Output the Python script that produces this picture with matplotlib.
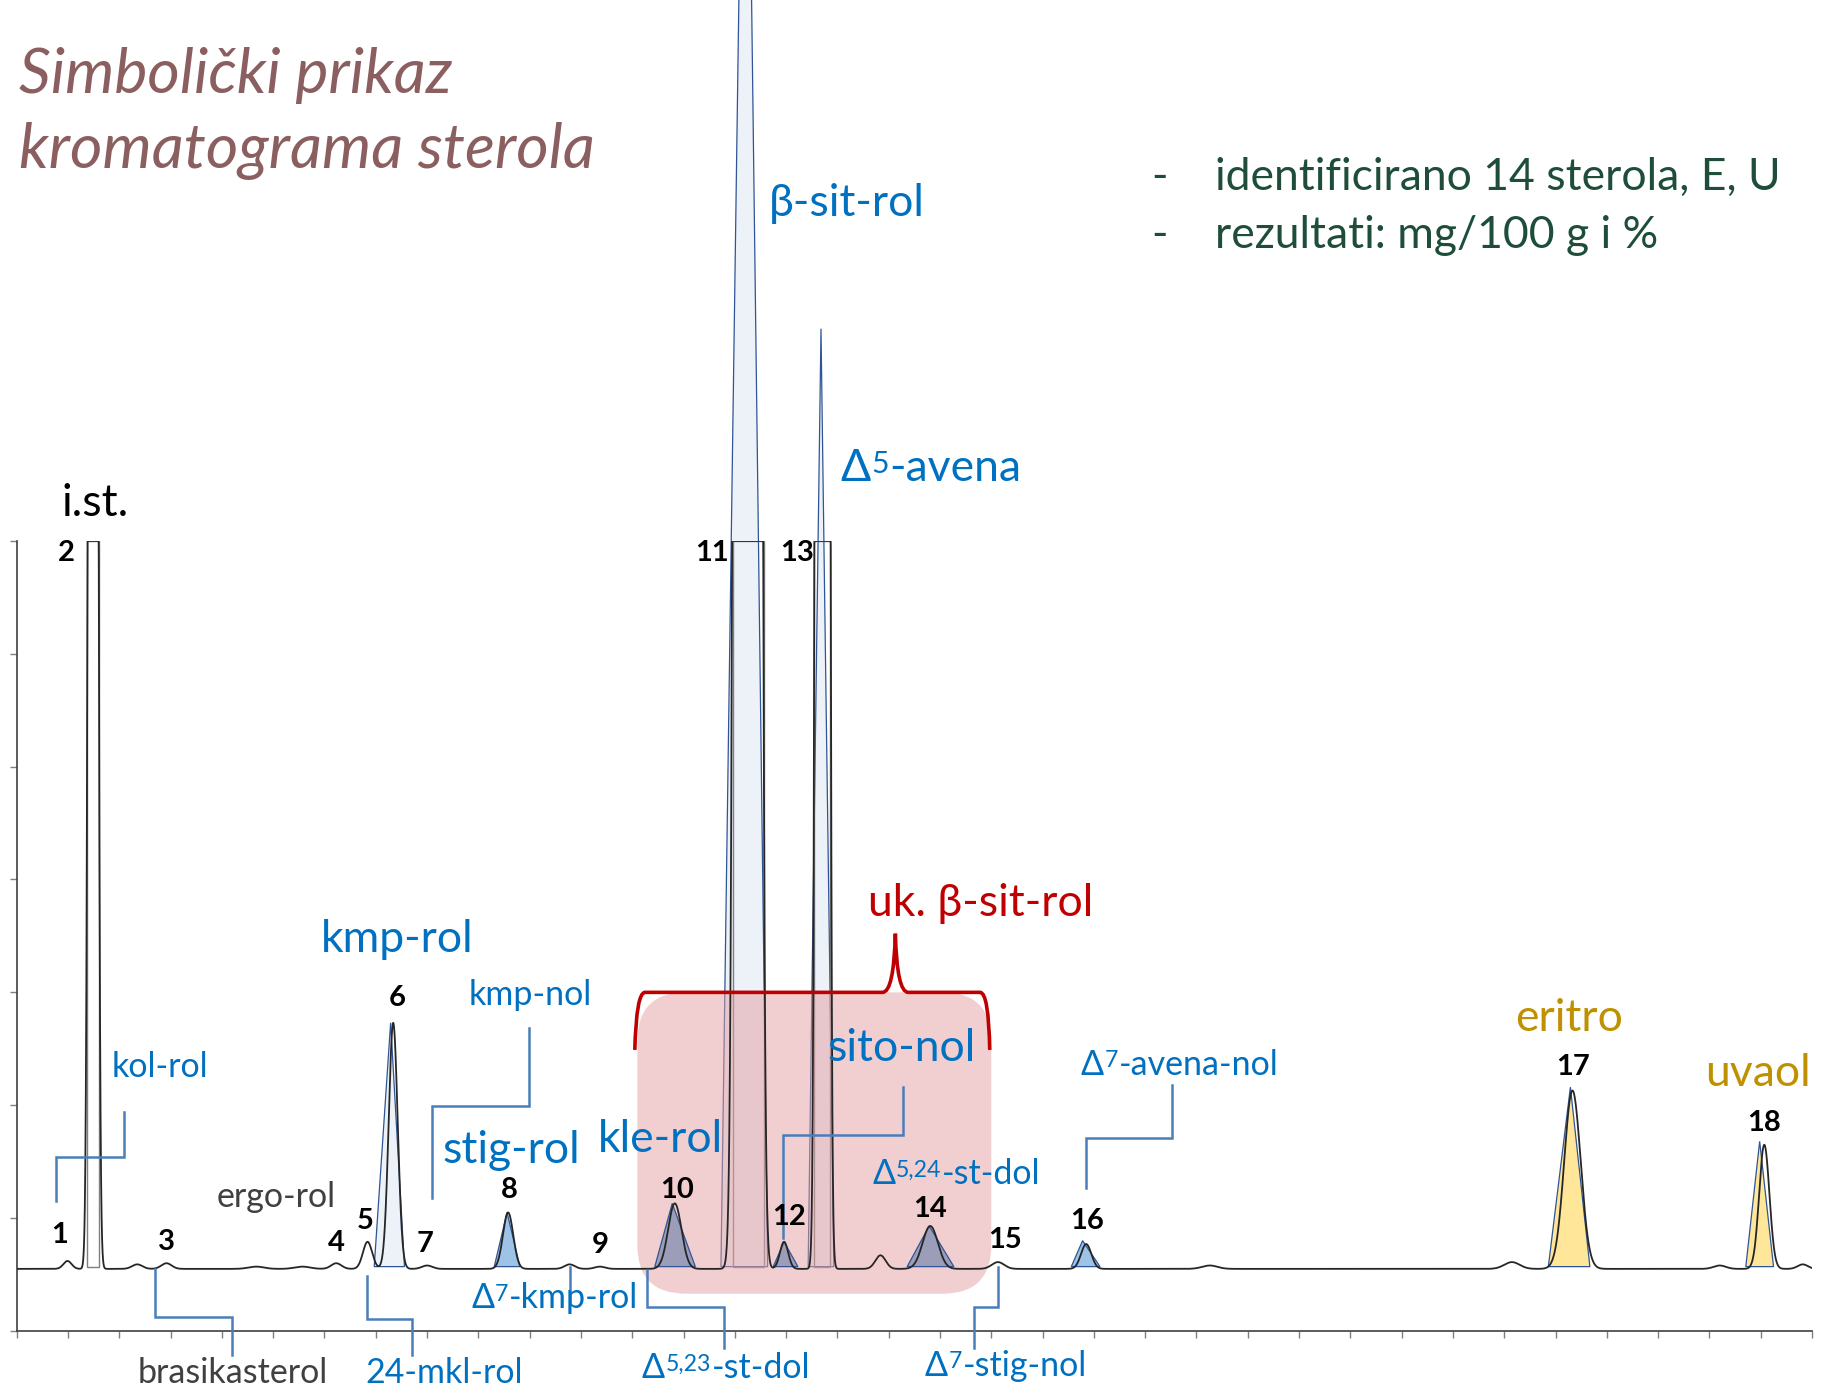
import numpy as np
import matplotlib.pyplot as plt
from matplotlib.patches import Polygon, Rectangle, FancyBboxPatch, PathPatch
from matplotlib.path import Path

plt.rcParams['font.family'] = ['Lato', 'Noto Sans', 'DejaVu Sans']

# kromatogram: polozaj pika (jedinice osi), visina iznad bazne linije, sirina
baseline = 0.55
peak_rt = [0.99, 1.49, 2.35, 2.92, 4.67, 5.57, 6.23, 6.84, 7.34, 8.00, 9.58,
           10.78, 11.37, 12.83, 14.25, 14.96, 15.71, 16.84, 17.81, 19.13,
           20.85, 23.26, 29.15, 30.33, 33.20, 34.07, 34.82]
peak_h = [0.07, 50.0, 0.04, 0.05, 0.02, 0.02, 0.05, 0.24, 2.18, 0.03, 0.50,
          0.04, 0.02, 0.58, 500.0, 0.24, 200.0, 0.12, 0.38, 0.06,
          0.22, 0.03, 0.06, 1.58, 0.03, 1.10, 0.04]
peak_s = [0.08, 0.054, 0.10, 0.10, 0.15, 0.15, 0.10, 0.09, 0.087, 0.10, 0.10,
          0.10, 0.10, 0.13, 0.103, 0.08, 0.061, 0.10, 0.15, 0.12,
          0.10, 0.15, 0.15, 0.16, 0.12, 0.10, 0.10]

# integrirani pikovi (trokuti)
tri_left = [6.97, 9.31, 12.44, 13.73, 14.75, 15.43, 17.36, 20.56, 29.86, 33.71]
tri_apex = [7.29, 9.56, 12.78, 14.21, 14.96, 15.68, 17.79, 20.78, 30.29, 33.98]
tri_right = [7.56, 9.81, 13.23, 14.64, 15.23, 15.93, 18.27, 21.12, 30.67, 34.25]
tri_top = [2.73, 1.05, 1.13, 16.0, 0.79, 8.88, 0.93, 0.80, 2.16, 1.68]
tri_fill = ['#edf1f8', '#9dc3e6', '#9c9db8', '#edf1f8', '#9c9db8', '#edf1f8',
            '#9c9db8', '#9dc3e6', '#ffe699', '#ffe699']
tri_front = [True, True, True, False, True, False, True, True, True, True]

# odrezani vrhovi (2, 11, 13)
cut_left = [1.37, 13.96, 15.55]
cut_right = [1.60, 14.57, 15.86]

# brojevi pikova
num_txt = ['1', '2', '3', '4', '5', '6', '7', '8', '9', '10', '11', '12', '13',
           '14', '15', '16', '17', '18']
num_x = [0.83, 0.97, 2.92, 6.23, 6.79, 7.41, 7.97, 9.61, 11.37, 12.87, 13.55,
         15.05, 15.21, 17.81, 19.27, 20.87, 30.35, 34.07]
num_y = [0.85, 6.89, 0.79, 0.78, 0.97, 2.95, 0.77, 1.25, 0.76, 1.25, 6.89,
         1.01, 6.89, 1.08, 0.81, 0.97, 2.34, 1.84]

BLUE = '#0070c0'
GREY = '#404040'
GOLD = '#bf9000'
RED = '#c00000'
LINE = '#4a7ebb'

# nazivi: tekst, x, y, velicina, boja
names = [
    ('i.st.', 1.53, 7.33, 32, 'black'),
    ('β-sit-rol', 16.18, 9.99, 32, BLUE),
    ('uk. β-sit-rol', 18.79, 3.79, 32, RED),
    ('kmp-rol', 7.41, 3.47, 32, BLUE),
    ('kmp-nol', 10.01, 2.98, 24.5, BLUE),
    ('kol-rol', 2.80, 2.34, 24.5, BLUE),
    ('sito-nol', 17.25, 2.50, 32, BLUE),
    ('stig-rol', 9.65, 1.60, 32, BLUE),
    ('kle-rol', 12.55, 1.70, 32, BLUE),
    ('ergo-rol', 5.05, 1.19, 24.5, GREY),
    ('eritro', 30.26, 2.77, 32, GOLD),
    ('uvaol', 33.94, 2.28, 32, GOLD),
    ('brasikasterol', 4.21, -0.37, 24.5, GREY),
    ('24-mkl-rol', 8.34, -0.37, 24.5, BLUE),
]
# nazivi s Δ: lijevi rub x, y, eksponent, ostatak, velicina
delta_names = [
    (16.05, 7.64, '5', '-avena', 32),
    (20.74, 2.36, '7', '-avena-nol', 24.5),
    (16.68, 1.39, '5,24', '-st-dol', 24.5),
    (8.86, 0.29, '7', '-kmp-rol', 24.5),
    (12.19, -0.33, '5,23', '-st-dol', 24.5),
    (17.70, -0.31, '7', '-stig-nol', 24.5),
]

# pokazne linije
leaders = [
    ([0.76, 0.76, 2.10, 2.10], [1.15, 1.54, 1.54, 1.94]),
    ([2.69, 2.69, 4.19, 4.19], [0.55, 0.12, 0.12, -0.21]),
    ([6.82, 6.82, 7.70, 7.70], [0.49, 0.11, 0.11, -0.21]),
    ([8.09, 8.09, 9.99, 9.99], [1.18, 1.99, 1.99, 2.68]),
    ([10.78, 10.78], [0.57, 0.25]),
    ([12.28, 12.28, 13.78, 13.78], [0.54, 0.21, 0.21, -0.15]),
    ([14.93, 14.93, 17.27, 17.27], [0.82, 1.74, 1.74, 2.16]),
    ([19.13, 19.13, 18.67, 18.67], [0.57, 0.21, 0.21, -0.15]),
    ([20.85, 20.85, 22.53, 22.53], [1.27, 1.71, 1.71, 2.18]),
]

x = np.linspace(0, 35, 14001)
y = np.full_like(x, baseline)
for rt, h, s in zip(peak_rt, peak_h, peak_s):
    y += h * np.exp(-0.5 * ((x - rt) / s) ** 2)
y = np.minimum(y, 7.0)

fig = plt.figure(figsize=(18.23, 13.88), dpi=100)
ax = fig.add_axes([0.00916, 0.0411, 0.9848, 0.5692])
ax.set_xlim(0, 35)
ax.set_ylim(0, 7)
ax.set_xticks(np.arange(0, 36))
ax.set_yticks(np.arange(0, 8))
ax.tick_params(direction='out', length=5, width=1, color='#7f7f7f',
               labelbottom=False, labelleft=False)
for sp in ['top', 'right']:
    ax.spines[sp].set_visible(False)
for sp in ['left', 'bottom']:
    ax.spines[sp].set_color('#404040')
    ax.spines[sp].set_linewidth(1.2)

# trokuti
for l, a, r, t, c, front in zip(tri_left, tri_apex, tri_right, tri_top,
                                tri_fill, tri_front):
    poly = Polygon([[l, baseline + 0.02], [a, t], [r, baseline + 0.02]],
                   closed=True, facecolor=c, edgecolor='#2f5597', lw=0.9,
                   zorder=4 if front else 1, clip_on=False)
    ax.add_patch(poly)

for l, r in zip(cut_left, cut_right):
    ax.add_patch(Rectangle((l, baseline + 0.02), r - l, 7.0 - baseline - 0.02,
                           fill=False, edgecolor='#7f7f7f', lw=1.0, zorder=2))

# ruzicasti okvir
box = FancyBboxPatch((12.1, 0.33), 6.9, 2.67,
                     boxstyle='round,pad=0,rounding_size=0.95',
                     mutation_aspect=44.1 / 97.1,
                     facecolor='#e59fa1', edgecolor='none', alpha=0.5,
                     zorder=3, clip_on=False)
ax.add_patch(box)

ax.plot(x, y, color='#262626', lw=1.3, zorder=5)

for lx, ly in leaders:
    ax.plot(lx, ly, color=LINE, lw=1.8, zorder=6, clip_on=False,
            solid_joinstyle='miter')

# viticasta zagrada
verts = [(12.05, 2.49), (12.08, 3.0), (12.25, 3.0), (16.88, 3.0),
         (17.10, 3.0), (17.13, 3.52), (17.16, 3.0), (17.38, 3.0),
         (18.78, 3.0), (18.95, 3.0), (18.97, 2.49)]
codes = [Path.MOVETO, Path.CURVE3, Path.CURVE3, Path.LINETO,
         Path.CURVE3, Path.CURVE3, Path.CURVE3, Path.CURVE3,
         Path.LINETO, Path.CURVE3, Path.CURVE3]
ax.add_patch(PathPatch(Path(verts, codes), facecolor='none', edgecolor=RED,
                       lw=2.6, zorder=6, clip_on=False))

for t, nx, ny in zip(num_txt, num_x, num_y):
    ax.text(nx, ny, t, fontsize=21, fontweight='bold', color='black',
            ha='center', va='center', zorder=8, clip_on=False)

for t, tx, ty, fs, c in names:
    ax.text(tx, ty, t, fontsize=fs, color=c, ha='center', va='center',
            zorder=8, clip_on=False)

for dx, dy, sup, rest, fs in delta_names:
    t1 = ax.text(dx, dy, 'Δ', fontsize=fs, color=BLUE, ha='left', va='center',
                 zorder=8, clip_on=False)
    t2 = ax.annotate(sup, xy=(1, 1), xycoords=t1, xytext=(0.5, -fs * 0.04),
                     textcoords='offset points', fontsize=fs * 0.68,
                     color=BLUE, ha='left', va='top', zorder=8)
    ax.annotate(rest, xy=(1, 0.5), xycoords=(t2, t1), xytext=(0.5, 0),
                textcoords='offset points', fontsize=fs, color=BLUE,
                ha='left', va='center', zorder=8)

# naslov i napomene
fig.text(0.0102, 0.9455, 'Simbolički prikaz', fontsize=45, style='italic',
         color='#8b5e60', ha='left', va='center')
fig.text(0.0102, 0.891, 'kromatograma sterola', fontsize=45, style='italic',
         color='#8b5e60', ha='left', va='center')
for yy, s in [(0.872, 'identificirano 14 sterola, E, U'),
              (0.830, 'rezultati: mg/100 g i %')]:
    fig.text(0.636, yy, '-', fontsize=32, color='#1e4e3a', ha='center',
             va='center')
    fig.text(0.6665, yy, s, fontsize=32, color='#1e4e3a', ha='left',
             va='center')

fig.savefig('out.png', dpi=100)
